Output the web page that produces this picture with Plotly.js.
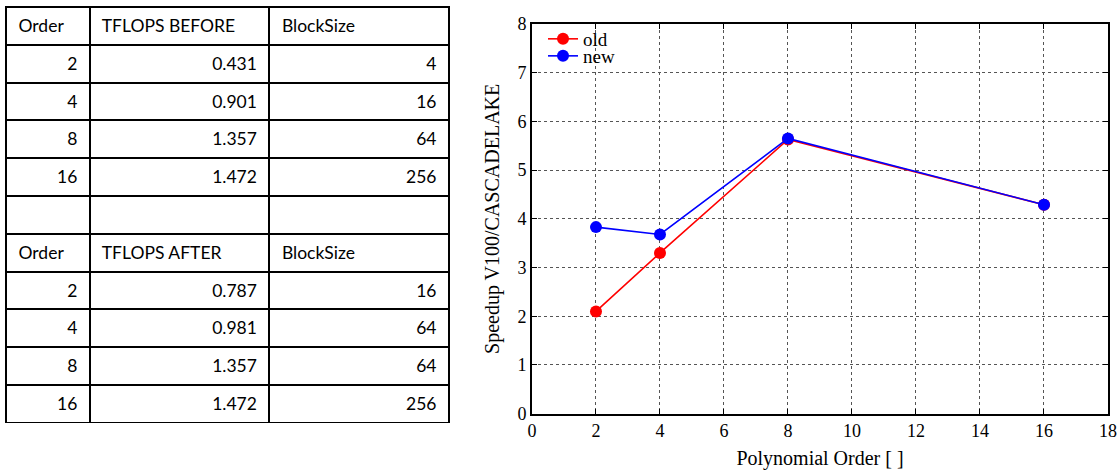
<!DOCTYPE html>
<html>
<head>
<meta charset="utf-8">
<script src="https://cdn.plot.ly/plotly-3.0.1.min.js"></script>
<style>html,body{margin:0;padding:0;background:#fff;}#chart{width:1119px;height:470px;}</style>
</head>
<body>
<div id="chart"></div>
<script>
// ---- table data ----
const headBefore = ['Order', 'TFLOPS BEFORE', 'BlockSize'];
const headAfter = ['Order', 'TFLOPS AFTER', 'BlockSize'];
const ordersBefore = [2, 4, 8, 16];
const tflopsBefore = [0.431, 0.901, 1.357, 1.472];
const blockBefore = [4, 16, 64, 256];
const ordersAfter = [2, 4, 8, 16];
const tflopsAfter = [0.787, 0.981, 1.357, 1.472];
const blockAfter = [16, 64, 64, 256];

// ---- chart data ----
const orders = [2, 4, 8, 16];
const speedupOld = [2.1, 3.3, 5.63, 4.29];
const speedupNew = [3.83, 3.68, 5.65, 4.29];
const xTicks = [0, 2, 4, 6, 8, 10, 12, 14, 16, 18];
const yTicks = [0, 1, 2, 3, 4, 5, 6, 7, 8];

// build table columns (an empty <span></span> makes Plotly lay the cell text out as tspans;
// spaces become no-break spaces so that Plotly does not try to wrap the text)
const txt = v => v === '' ? '' : '<span></span>' + v.replace(/ /g, '\u00a0');
const fmt3 = v => v.toFixed(3);
const col0 = [], col1 = [], col2 = [], alignRows = [];
ordersBefore.forEach((o, i) => { col0.push(txt(String(o))); col1.push(txt(fmt3(tflopsBefore[i]))); col2.push(txt(String(blockBefore[i]))); alignRows.push('right'); });
col0.push(''); col1.push(''); col2.push(''); alignRows.push('right');
col0.push(txt(headAfter[0])); col1.push(txt(headAfter[1])); col2.push(txt(headAfter[2])); alignRows.push('left');
ordersAfter.forEach((o, i) => { col0.push(txt(String(o))); col1.push(txt(fmt3(tflopsAfter[i]))); col2.push(txt(String(blockAfter[i]))); alignRows.push('right'); });
const pad = '\u00a0';
const pre = alignRows.map(a => a === 'left' ? pad : '');
const suf = alignRows.map(a => a === 'right' ? pad : '');

const rowH = 37.8;
const tableFont = {family: 'Lato, "Open Sans", sans-serif', size: 17.5, color: '#000'};

const table = {
  type: 'table',
  domain: {x: [0, 0.4029], y: [0, 1]},
  columnwidth: [84, 180, 180],
  header: {
    values: headBefore.map(h => [txt(h)]),
    align: 'left',
    prefix: pad,
    height: rowH,
    line: {color: '#000', width: 2},
    fill: {color: '#fff'},
    font: tableFont
  },
  cells: {
    values: [col0, col1, col2],
    align: [alignRows, alignRows, alignRows],
    prefix: [pre, pre, pre],
    suffix: [suf, suf, suf],
    height: rowH,
    line: {color: '#000', width: 2},
    fill: {color: '#fff'},
    font: tableFont
  }
};

const serif = '"Liberation Serif", "DejaVu Serif", serif';
const traceOld = {
  type: 'scatter', mode: 'lines+markers', name: 'old', legend: 'legend',
  x: orders, y: speedupOld, xaxis: 'x', yaxis: 'y',
  line: {color: '#ff0000', width: 1.6},
  marker: {color: '#ff0000', size: 12, symbol: 'circle'}
};
const traceNew = {
  type: 'scatter', mode: 'lines+markers', name: 'new', legend: 'legend2',
  x: orders, y: speedupNew, xaxis: 'x', yaxis: 'y',
  line: {color: '#0000ff', width: 1.6},
  marker: {color: '#0000ff', size: 12, symbol: 'circle'}
};

const axisCommon = {
  showline: true, linecolor: '#000', linewidth: 2, mirror: 'allticks',
  ticks: 'inside', ticklen: 5, tickcolor: '#000', tickwidth: 1,
  showgrid: true, gridcolor: '#555', griddash: 'dot', gridwidth: 1,
  zeroline: false,
  tickfont: {family: serif, size: 18, color: '#000'}
};

const legendCommon = {
  x: 0.4873, xanchor: 'left', yanchor: 'top',
  bgcolor: 'rgba(0,0,0,0)', borderwidth: 0,
  font: {family: serif, size: 19, color: '#000'}
};

const layout = {
  width: 1119, height: 470,
  margin: {l: 6, r: 11, t: 7, b: 47},
  paper_bgcolor: '#fff', plot_bgcolor: '#fff',
  showlegend: true,
  legend: Object.assign({}, legendCommon, {y: 0.9688}),
  legend2: Object.assign({}, legendCommon, {y: 0.9279}),
  xaxis: Object.assign({}, axisCommon, {
    domain: [0.4773, 1], anchor: 'y',
    range: [0, 18], tickmode: 'array', tickvals: xTicks, ticktext: xTicks.map(String),
    title: {text: 'Polynomial Order [ ]', font: {family: serif, size: 20, color: '#000'}, standoff: 12}
  }),
  yaxis: Object.assign({}, axisCommon, {
    domain: [0.0224, 0.9591], anchor: 'x',
    range: [0, 8], tickmode: 'array', tickvals: yTicks, ticktext: yTicks.map(String),
    title: {text: 'Speedup V100/CASCADELAKE', font: {family: serif, size: 20, color: '#000'}, standoff: 12}
  })
};

Plotly.newPlot('chart', [table, traceOld, traceNew], layout, {displayModeBar: false, staticPlot: true});
</script>
</body>
</html>
